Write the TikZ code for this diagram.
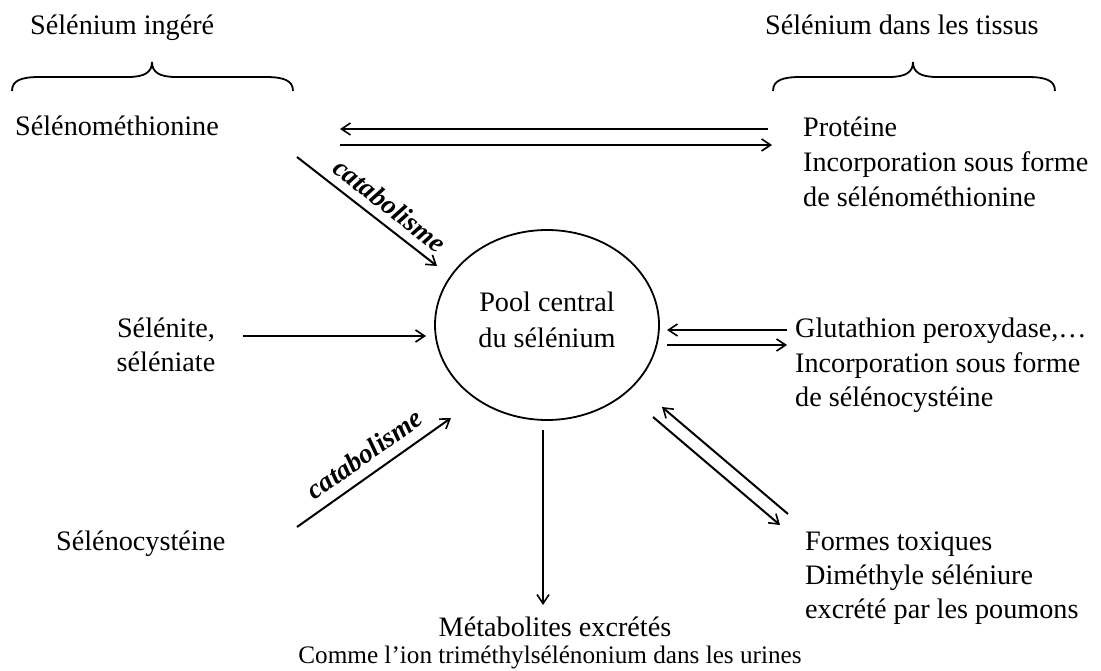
\documentclass[tikz,border=0pt]{standalone}
\usepackage{fontspec}
\setmainfont{Liberation Serif}
\usetikzlibrary{arrows.meta,shapes.geometric}
\begin{document}
\begin{tikzpicture}[x=1pt,y=-1pt,
  txt/.style={inner sep=0pt, font=\fontsize{28.2}{34}\selectfont},
  lt/.style={txt, anchor=base west},
  ct/.style={txt, anchor=base},
  arr/.style={line width=2pt, -{Straight Barb[length=9pt,width=12pt,line width=1.6pt]}},
  cat/.style={font=\fontsize{27.5}{32}\selectfont\bfseries\itshape, inner sep=0pt, anchor=south},
  bracestyle/.style={line width=1.8pt}]
\useasboundingbox (0,0) rectangle (1101,671);

% headings
\node[lt] (ing) at (30,35) {Sélénium ingéré};
\node[lt] (tis) at (765,35) {Sélénium dans les tissus};

% braces
\draw[bracestyle] (12,91) .. controls (12,80) and (22,77) .. (40,77) -- (128,77)
   .. controls (145,77) and (152,72) .. (152,62)
   .. controls (152,72) and (159,77) .. (176,77) -- (265,77)
   .. controls (283,77) and (293,80) .. (293,91);
\draw[bracestyle] (773,91) .. controls (773,80) and (783,77) .. (801,77) -- (889,77)
   .. controls (906,77) and (913,72) .. (913,62)
   .. controls (913,72) and (920,77) .. (937,77) -- (1027,77)
   .. controls (1045,77) and (1055,80) .. (1055,91);

% left column
\node[lt] (smet) at (15,136) {Sélénométhionine};
\node[ct] (site1) at (166,337) {Sélénite,};
\node[ct] (site2) at (166,371) {séléniate};
\node[lt] (scys) at (56,550) {Sélénocystéine};

% right column
\node[lt] (prot1) at (803,137) {Protéine};
\node[lt] (prot2) at (803,172) {Incorporation sous forme};
\node[lt] (prot3) at (803,207) {de sélénométhionine};

\node[lt] (glu1) at (795,337) {Glutathion peroxydase,…};
\node[lt] (glu2) at (795,372) {Incorporation sous forme};
\node[lt] (glu3) at (795,406) {de sélénocystéine};

\node[lt] (tox1) at (805,550) {Formes toxiques};
\node[lt] (tox2) at (805,584) {Diméthyle séléniure};
\node[lt] (tox3) at (805,618) {excrété par les poumons};

% bottom
\node[ct] (met1) at (555,636) {Métabolites excrétés};
\node[ct, font=\fontsize{25.2}{30}\selectfont] (met2) at (550,663) {Comme l’ion triméthylsélénonium dans les urines};

% central pool
\node[draw, ellipse, line width=1.8pt, minimum width=224pt, minimum height=190pt, inner sep=0pt] (pool) at (547,325) {};
\node[ct] (pool1) at (547,312) {Pool central};
\node[ct] (pool2) at (547,347) {du sélénium};

% connector end points
\coordinate (a1s) at (768,129); \coordinate (a1e) at (340,129);
\coordinate (a2s) at (340,145); \coordinate (a2e) at (772,145);
\coordinate (c1s) at (297,157); \coordinate (c1e) at (437,266);
\coordinate (s1s) at (243,336); \coordinate (s1e) at (426,336);
\coordinate (g1s) at (787,330); \coordinate (g1e) at (667,330);
\coordinate (g2s) at (667,345); \coordinate (g2e) at (787,345);
\coordinate (c2s) at (297,527); \coordinate (c2e) at (451,418);
\coordinate (ds) at (543,430);  \coordinate (de) at (543,605);
\coordinate (t1s) at (788,514); \coordinate (t1e) at (662,407);
\coordinate (t2s) at (653,417); \coordinate (t2e) at (780,525);

\draw[arr] (a1s) -- (a1e);
\draw[arr] (a2s) -- (a2e);
\draw[arr] (c1s) -- (c1e);
\node[cat, rotate=-37.9] (cat1) at (384,213) {catabolisme};
\draw[arr] (s1s) -- (s1e);
\draw[arr] (g1s) -- (g1e);
\draw[arr] (g2s) -- (g2e);
\draw[arr] (c2s) -- (c2e);
\node[cat, rotate=35.3] (cat2) at (370,462) {catabolisme};
\draw[arr] (ds) -- (de);
\draw[arr] (t1s) -- (t1e);
\draw[arr] (t2s) -- (t2e);
\end{tikzpicture}
\end{document}
